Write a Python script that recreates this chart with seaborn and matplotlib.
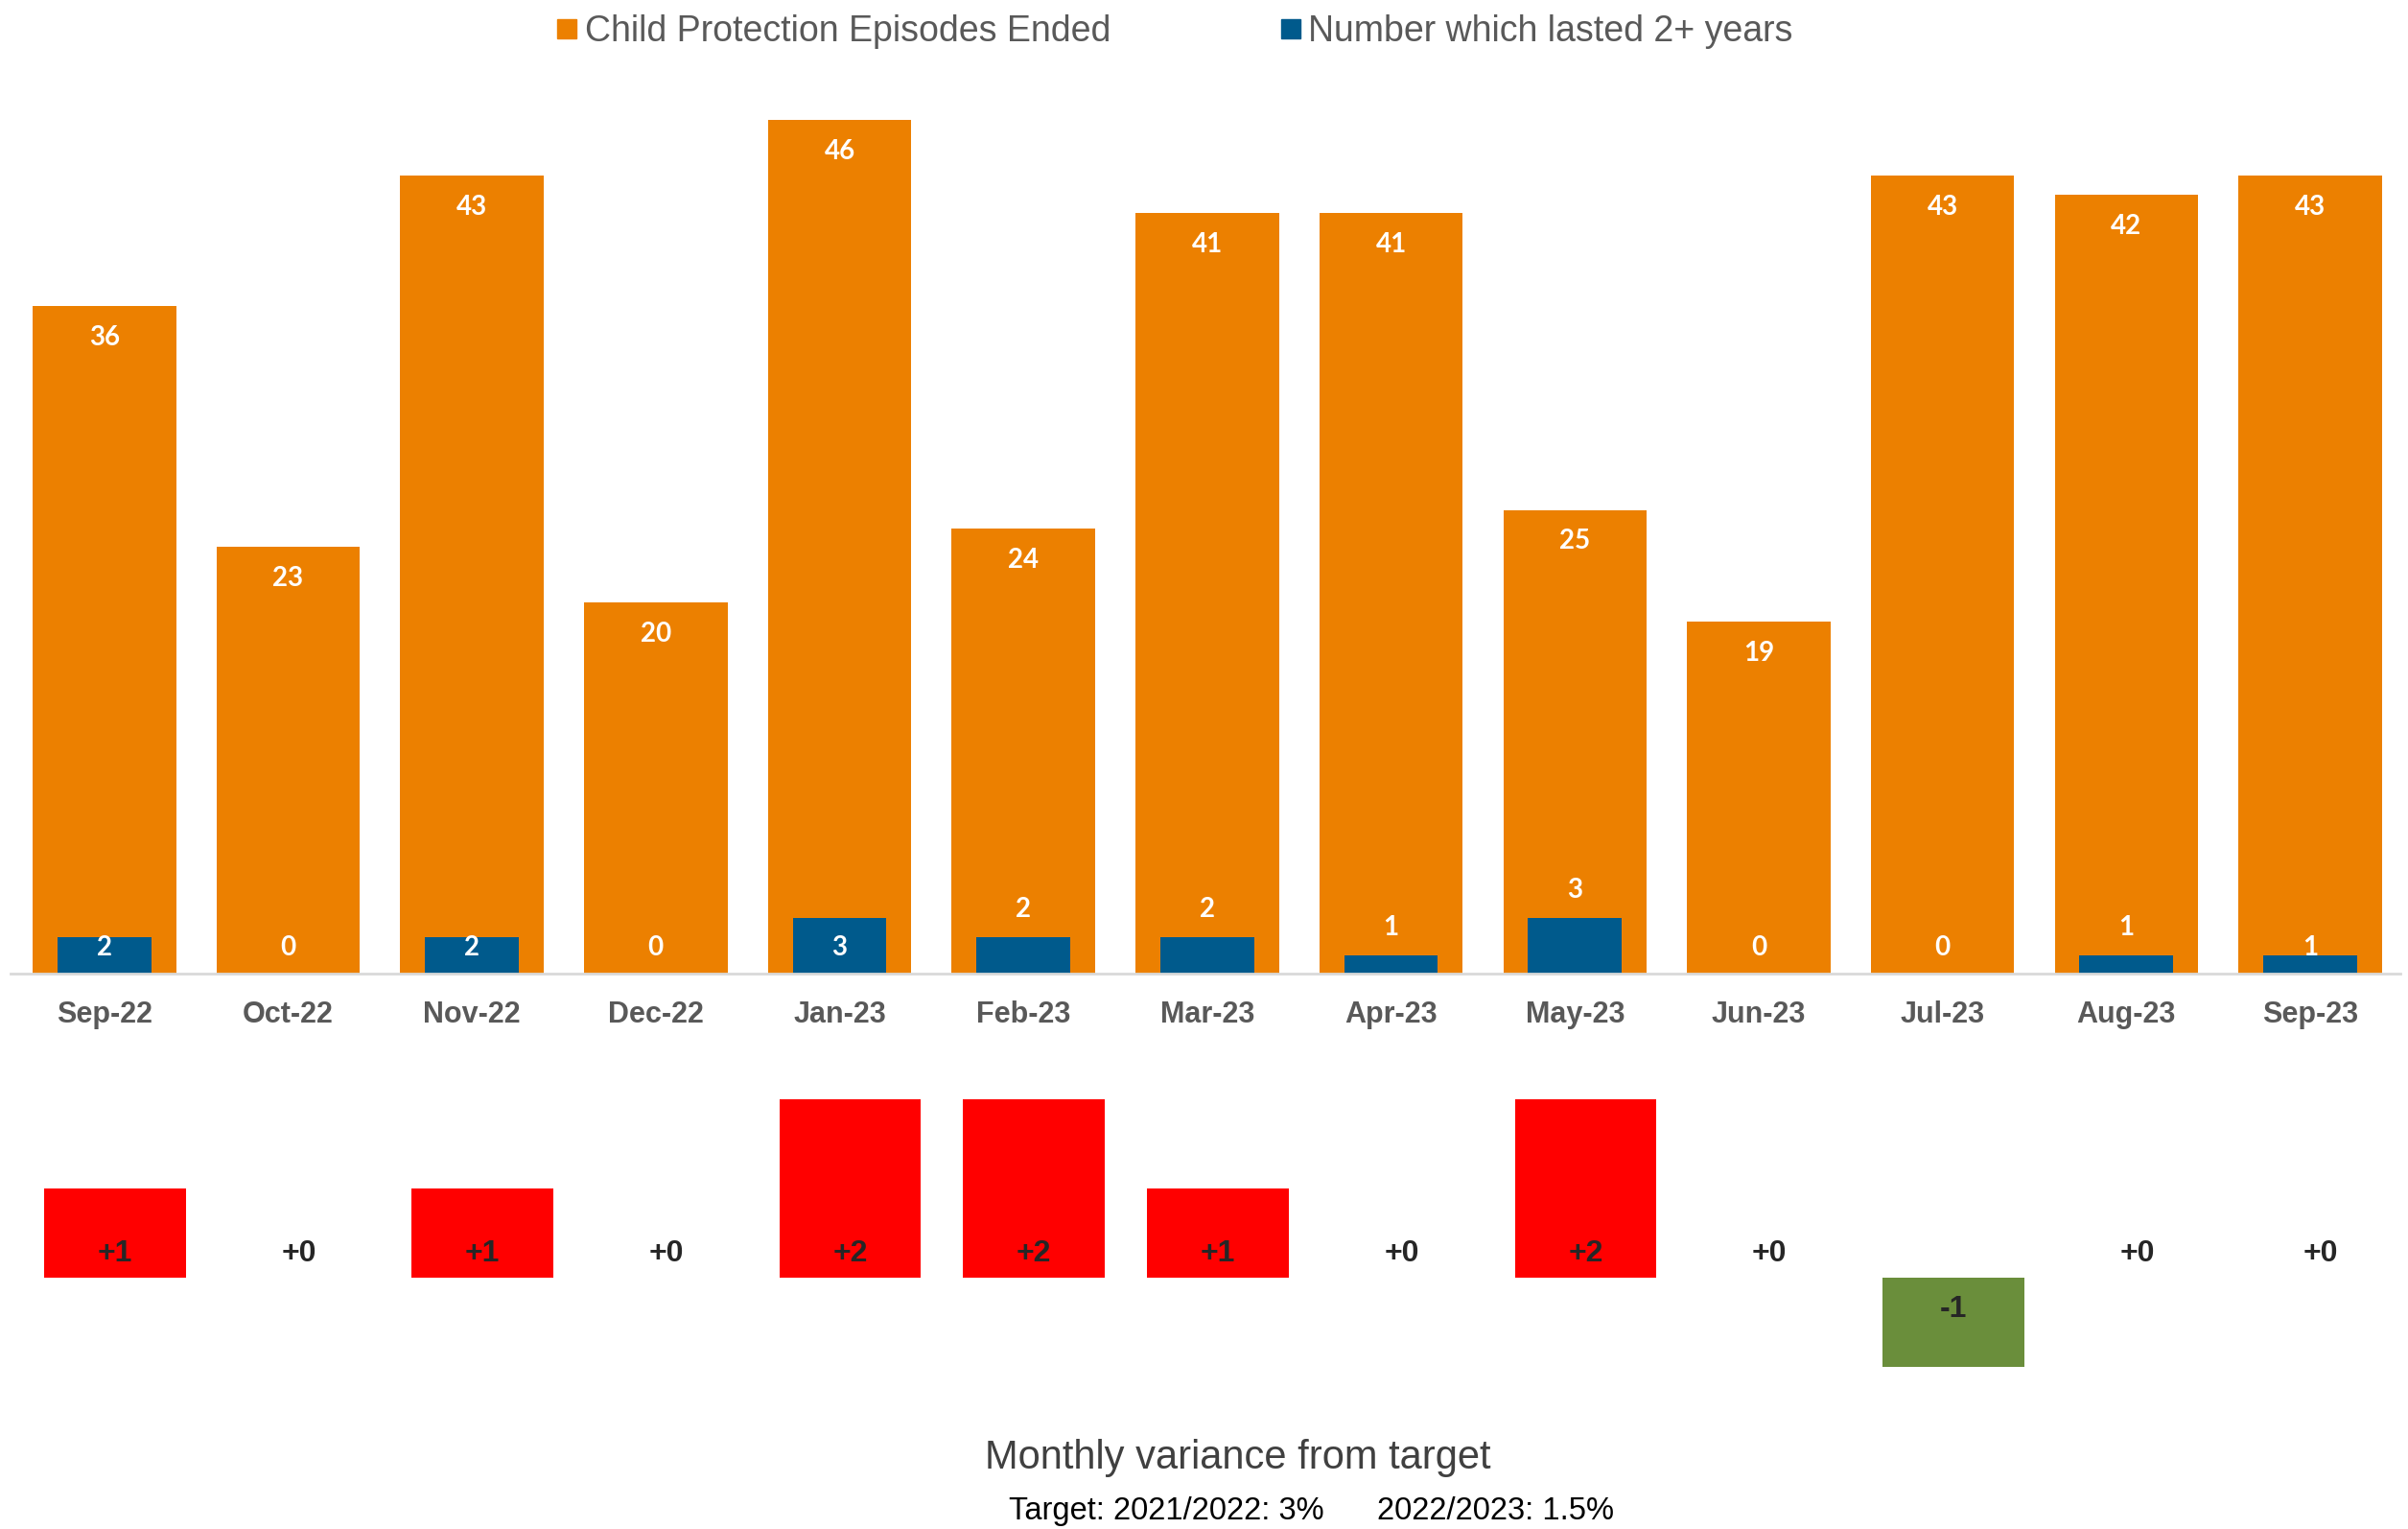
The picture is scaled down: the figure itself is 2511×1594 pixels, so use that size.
import pandas as pd
import matplotlib.pyplot as plt
from matplotlib.lines import Line2D
import seaborn as sns

# ---------------- data ---------------- #
months = ['Sep-22', 'Oct-22', 'Nov-22', 'Dec-22', 'Jan-23', 'Feb-23', 'Mar-23',
          'Apr-23', 'May-23', 'Jun-23', 'Jul-23', 'Aug-23', 'Sep-23']
episodes_ended = [36, 23, 43, 20, 46, 24, 41, 41, 25, 19, 43, 42, 43]
lasted_2plus = [2, 0, 2, 0, 3, 2, 2, 1, 3, 0, 0, 1, 1]
variance = [1, 0, 1, 0, 2, 2, 1, 0, 2, 0, -1, 0, 0]

# which blue labels sit above their bar (as in the original sheet)
blue_label_above = [False, False, False, False, False, True, True, True, True, False, False, True, False]

orange = '#EC8000'
blue = '#005A8C'
red = '#FF0000'
green = '#6A8E3B'

sns.set_style('white')
plt.rcParams['font.family'] = ['Liberation Sans', 'DejaVu Sans']

df = pd.DataFrame({'month': months, 'ended': episodes_ended, 'long': lasted_2plus})
dv = pd.DataFrame({'month': months, 'variance': variance})
dv['direction'] = ['down' if v < 0 else 'up' for v in variance]

fig = plt.figure(figsize=(25.11, 15.94), dpi=100)

# ---------------- top chart ---------------- #
ax = fig.add_axes([0.0044, 0.363, 0.9924, 0.607])
sns.barplot(data=df, x='month', y='ended', order=months, color=orange, width=0.78,
            saturation=1, errorbar=None, linewidth=0, ax=ax)
sns.barplot(data=df, x='month', y='long', order=months, color=blue, width=0.51,
            saturation=1, errorbar=None, linewidth=0, ax=ax)
ax.set_xlim(-0.51, 12.49)
ax.set_ylim(0, 50)
ax.set_xlabel('')
ax.set_ylabel('')
ax.set_yticks([])
for s in ['top', 'right', 'left']:
    ax.spines[s].set_visible(False)
ax.spines['bottom'].set_color('#D9D9D9')
ax.spines['bottom'].set_linewidth(2)
ax.tick_params(axis='x', length=0, pad=20, labelsize=22, labelcolor='#595959')
for lab in ax.get_xticklabels():
    lab.set_fontweight('bold')

lbl_font = dict(family=['Lato', 'DejaVu Sans'], fontweight='bold', fontsize=20, color='white')
for i, v in enumerate(episodes_ended):
    ax.text(i, v - 1.7, str(v), ha='center', va='center', **lbl_font)
for i, v in enumerate(lasted_2plus):
    y = v + 1.5 if blue_label_above[i] else 1.4
    ax.text(i, y, str(v), ha='center', va='center', **lbl_font)

handles = [Line2D([], [], marker='s', linestyle='none', color=orange, markersize=14),
           Line2D([], [], marker='s', linestyle='none', color=blue, markersize=14)]
fig.legend(handles, ['Child Protection Episodes Ended', 'Number which lasted 2+ years'],
           loc='center', bbox_to_anchor=(0.487, 0.979), ncol=2, frameon=False,
           fontsize=27, labelcolor='#595959', handletextpad=0.1, columnspacing=4.6,
           handlelength=0.8)

# ---------------- variance chart ---------------- #
ax2 = fig.add_axes([0.0088, 0.0768, 0.9924, 0.2334])
sns.barplot(data=dv, x='month', y='variance', order=months, hue='direction',
            hue_order=['up', 'down'], palette={'up': red, 'down': green},
            dodge=False, width=0.77, saturation=1, errorbar=None, legend=False,
            linewidth=0, ax=ax2)
ax2.set_xlim(-0.51, 12.49)
ax2.set_ylim(-1.5, 2.5)
ax2.axis('off')
for i, v in enumerate(variance):
    txt = f'+{v}' if v >= 0 else str(v)
    y = 0.27 if v >= 0 else -0.35
    ax2.text(i, y, txt, ha='center', va='center', fontsize=23, fontweight='bold', color='#262626')

fig.text(0.514, 0.0465, 'Monthly variance from target', ha='center', va='center',
         fontsize=30, color='#404040')
fig.text(0.419, 0.0113, 'Target: 2021/2022: 3%', ha='left', va='center', fontsize=23.5, color='black')
fig.text(0.572, 0.0113, '2022/2023: 1.5%', ha='left', va='center', fontsize=23.5, color='black')

plt.savefig('out.png', dpi=100)
